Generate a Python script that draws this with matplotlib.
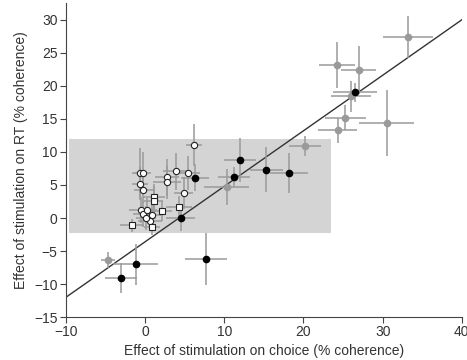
import numpy as np
import matplotlib.pyplot as plt

plt.rcParams['font.family'] = ['Liberation Sans', 'DejaVu Sans']

# gray points
gx = [33.2, 24.2, 27.0, 26.0, 25.3, 24.3, 30.5, 20.2, 10.3, -4.7]
gy = [27.4, 23.2, 22.4, 18.4, 15.2, 13.3, 14.4, 10.9, 4.7, -6.4]
gxe = [3.1, 2.3, 2.2, 2.5, 2.6, 2.5, 3.5, 2.0, 2.8, 0.9]
gye = [3.2, 3.5, 3.7, 2.3, 1.9, 1.9, 5.0, 1.5, 2.7, 1.2]

# black points
bx = [26.5, 12.0, 11.2, 15.3, 18.2, 6.3, 4.5, 7.7, -1.2, -3.0]
by = [19.0, 8.8, 6.2, 7.3, 6.8, 6.1, 0.0, -6.2, -7.0, -9.1]
bxe = [2.8, 2.0, 2.0, 2.1, 2.4, 1.8, 1.8, 2.7, 2.8, 2.0]
bye = [1.5, 3.3, 1.5, 3.4, 3.0, 2.0, 2.0, 3.9, 3.1, 2.3]

# white circles
cx = [6.2, -0.7, -0.3, -0.6, -0.25, 2.8, 2.8, 3.9, 5.4, 4.9,
      -0.5, -0.25, 0.25, 0.9, 0.6, 0.1]
cy = [11.1, 6.8, 6.8, 5.2, 4.2, 6.2, 5.4, 7.1, 6.8, 3.8,
      1.2, 0.6, 1.2, 0.45, -0.45, 0.0]
cxe = [1.0, 1.0, 1.0, 1.0, 1.2, 1.5, 1.8, 1.6, 1.6, 1.2,
       1.5, 1.3, 1.2, 1.4, 1.5, 1.3]
cye = [3.2, 3.8, 3.2, 2.5, 2.0, 2.8, 2.5, 2.8, 2.6, 2.4,
       2.0, 2.0, 1.8, 1.8, 1.5, 1.8]

# white squares
sx = [1.1, 1.1, 4.3, 2.1, -1.6, 0.9]
sy = [3.2, 2.6, 1.7, 1.1, -1.1, -1.3]
sxe = [1.4, 1.2, 1.6, 1.3, 1.5, 1.0]
sye = [2.0, 2.2, 1.6, 1.5, 1.0, 1.2]

fit_x = [-10, 40]
fit_y = [-12, 30]

box_x = [-9.6, 23.5]
box_y = [-2.2, 12.0]

fig = plt.figure(figsize=(4.67, 3.6), dpi=100)
ax = fig.add_axes([0.141, 0.119, 0.848, 0.872])

ax.fill_between(box_x, box_y[0], box_y[1], color='#d4d4d4', lw=0, zorder=0)
ax.plot(fit_x, fit_y, color='#333333', lw=1.0, zorder=1)

ecol = '#9a9a9a'
kw = dict(ls='', ecolor=ecol, elinewidth=1.1, capsize=0, markersize=4.5, zorder=3)
ax.errorbar(gx, gy, xerr=gxe, yerr=gye, marker='o', mfc=ecol, mec=ecol, **kw)
ax.errorbar(cx, cy, xerr=cxe, yerr=cye, marker='o', mfc='white', mec='#222222',
            mew=0.8, **kw)
ax.errorbar(sx, sy, xerr=sxe, yerr=sye, marker='s', mfc='white', mec='#222222',
            mew=0.8, **dict(kw, markersize=4))
ax.errorbar(bx, by, xerr=bxe, yerr=bye, marker='o', mfc='black', mec='black', **kw)

ax.set_xlim(-10, 40)
ax.set_ylim(-15, 32.5)
ax.set_xticks(np.arange(-10, 41, 10))
ax.set_yticks(np.arange(-15, 31, 5))
ax.set_xticklabels([str(v).replace('-', '\u2212') for v in range(-10, 41, 10)])
ax.set_yticklabels([str(v).replace('-', '\u2212') for v in range(-15, 31, 5)])
for s in ['top', 'right']:
    ax.spines[s].set_visible(False)
for s in ['left', 'bottom']:
    ax.spines[s].set_color('#444444')
ax.tick_params(labelsize=10, length=4, color='#444444', labelcolor='#333333', pad=2)
ax.set_xlabel('Effect of stimulation on choice (% coherence)', fontsize=10,
              color='#333333', labelpad=3)
ax.set_ylabel('Effect of stimulation on RT (% coherence)', fontsize=10,
              color='#333333', labelpad=4)

plt.savefig('out.png')
